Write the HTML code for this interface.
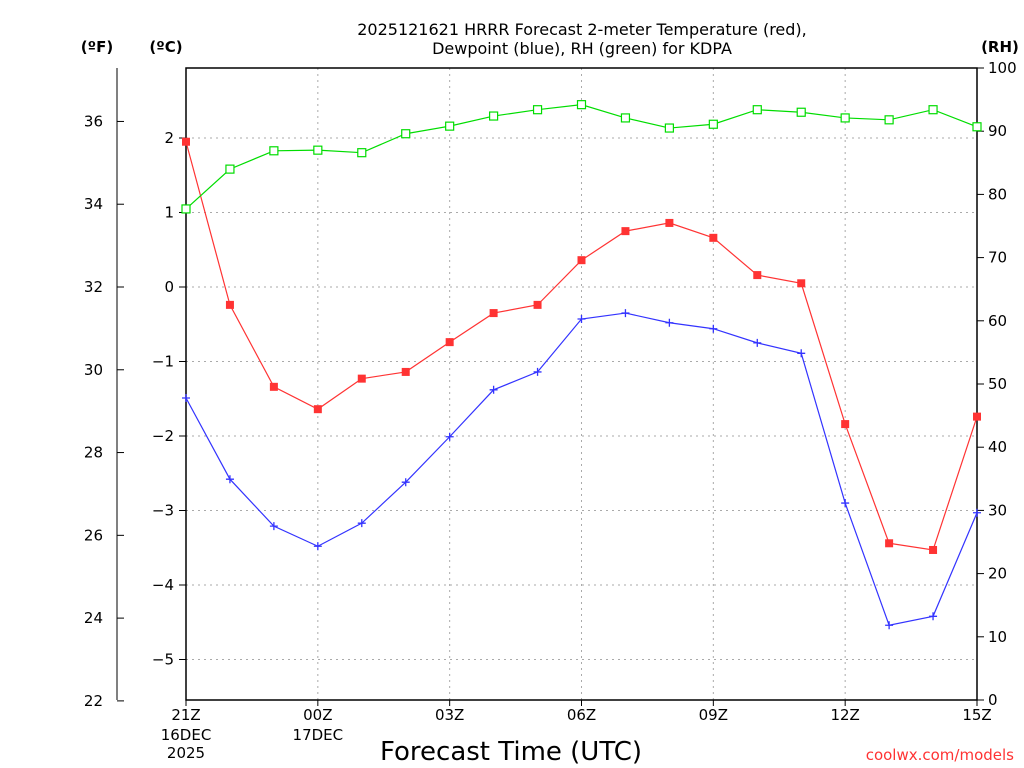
<!DOCTYPE html>
<html><head><meta charset="utf-8"><style>
body{margin:0;background:#fff;}
svg{display:block;font-family:"DejaVu Sans","Liberation Sans",sans-serif;}
</style></head><body>
<svg id="chart" width="1024" height="768" viewBox="0 0 1024 768">
<text x="582" y="35" text-anchor="middle" font-size="16">2025121621 HRRR Forecast 2-meter Temperature (red),</text>
<text x="582" y="54" text-anchor="middle" font-size="16">Dewpoint (blue), RH (green) for KDPA</text>
<text x="97" y="52" text-anchor="middle" font-size="15" font-weight="bold">(ºF)</text>
<text x="166" y="52" text-anchor="middle" font-size="15" font-weight="bold">(ºC)</text>
<text x="1000" y="52" text-anchor="middle" font-size="15" font-weight="bold">(RH)</text>
<text x="511" y="760" text-anchor="middle" font-size="26">Forecast Time (UTC)</text>
<text x="1014" y="760" text-anchor="end" font-size="15" fill="#ff3333">coolwx.com/models</text>
<g id="grid"></g><g id="axes"></g><g id="series"></g>
</svg>
<script>
const hours=[0,1,2,3,4,5,6,7,8,9,10,11,12,13,14,15,16,17,18];
const tempC=[1.95,-0.24,-1.34,-1.64,-1.23,-1.14,-0.74,-0.35,-0.24,0.36,0.75,0.86,0.66,0.16,0.05,-1.84,-3.44,-3.53,-1.74];
const dewC=[-1.49,-2.58,-3.21,-3.48,-3.17,-2.62,-2.01,-1.38,-1.14,-0.43,-0.35,-0.48,-0.56,-0.75,-0.89,-2.90,-4.54,-4.42,-3.03];
const rh=[77.7,84.0,86.9,87.0,86.6,89.6,90.8,92.4,93.4,94.2,92.1,90.5,91.1,93.4,93.0,92.1,91.8,93.4,90.7];
const cTicks=[2,1,0,-1,-2,-3,-4,-5];
const fTicks=[22,24,26,28,30,32,34,36];
const rhTicks=[0,10,20,30,40,50,60,70,80,90,100];
const xTickHours=[0,3,6,9,12,15,18];
const xTickLabels=["21Z","00Z","03Z","06Z","09Z","12Z","15Z"];
const NS="http://www.w3.org/2000/svg";
const X0=186,X1=977,Y0=68,Y1=700;
const xs=h=>X0+(X1-X0)*h/18;
const yC=c=>287-74.5*c;
const yF=f=>yC((f-32)*5/9);
const yRH=r=>Y1-(Y1-Y0)*r/100;
function mk(t,a,p){const e=document.createElementNS(NS,t);for(const k in a)e.setAttribute(k,a[k]);p.appendChild(e);return e;}
const grid=document.getElementById('grid'),axes=document.getElementById('axes'),ser=document.getElementById('series');
xTickHours.forEach((h,i)=>{
 if(h>0&&h<18){const l=mk('line',{x1:xs(h),x2:xs(h),y1:Y0,y2:Y1,stroke:'#aaa','stroke-dasharray':'2,4'},grid);
 
 }
 const t=mk('text',{x:xs(h),y:720,'text-anchor':'middle','font-size':15},axes);t.textContent=xTickLabels[i];
 
 
 mk('line',{x1:xs(h),x2:xs(h),y1:Y1,y2:Y1+6,stroke:'#000'},axes);
});
[[0,"16DEC"],[3,"17DEC"]].forEach(d=>{const t=mk('text',{x:xs(d[0]),y:740,'text-anchor':'middle','font-size':15},axes);t.textContent=d[1];
 
 });
{const t=mk('text',{x:xs(0),y:758,'text-anchor':'middle','font-size':15},axes);t.textContent="2025";
 
 }
cTicks.forEach(c=>{const y=yC(c);
 const l=mk('line',{x1:X0,x2:X1,y1:y,y2:y,stroke:'#aaa','stroke-dasharray':'2,4'},grid);
 
 
 mk('line',{x1:X0-7,x2:X0,y1:y,y2:y,stroke:'#000'},axes);
 const t=mk('text',{x:174,y:y+5,'text-anchor':'end','font-size':15},axes);t.textContent=c<0?'\u2212'+(-c):c;
 
 });
mk('line',{x1:117,x2:117,y1:Y0,y2:Y1,stroke:'#000'},axes);
fTicks.forEach(f=>{const y=yF(f);mk('line',{x1:117,x2:124,y1:y,y2:y,stroke:'#000'},axes);
 const t=mk('text',{x:103,y:y+5,'text-anchor':'end','font-size':15},axes);t.textContent=f;
 
 });
rhTicks.forEach(r=>{const y=yRH(r);mk('line',{x1:X1,x2:X1+7,y1:y,y2:y,stroke:'#000'},axes);
 const t=mk('text',{x:988,y:y+5,'font-size':15},axes);t.textContent=r;
 
 });
mk('rect',{x:X0,y:Y0,width:X1-X0,height:Y1-Y0,fill:'none',stroke:'#000','stroke-width':1.5},axes);
function line(vals,yf,color,name){
 const pts=vals.map((v,i)=>xs(hours[i])+','+yf(v)).join(' ');
 const p=mk('polyline',{points:pts,fill:'none',stroke:color,'stroke-width':1.2},ser);
 
 
}
line(tempC,yC,'#ff3333','temperature');
line(dewC,yC,'#3333ff','dewpoint');
line(rh,yRH,'#00dd00','rh');
tempC.forEach((v,i)=>{const r=mk('rect',{x:xs(hours[i])-4,y:yC(v)-4,width:8,height:8,fill:'#ff3333'},ser);
 
 });
dewC.forEach((v,i)=>{const x=xs(hours[i]),y=yC(v);
 const g=mk('path',{d:`M${x-4},${y}H${x+4}M${x},${y-4}V${y+4}`,stroke:'#3333ff','stroke-width':1.3},ser);
 
 });
rh.forEach((v,i)=>{const r=mk('rect',{x:xs(hours[i])-4,y:yRH(v)-4,width:8,height:8,fill:'#fff',stroke:'#00dd00','stroke-width':1.2},ser);
 
 });
</script>
</body></html>
